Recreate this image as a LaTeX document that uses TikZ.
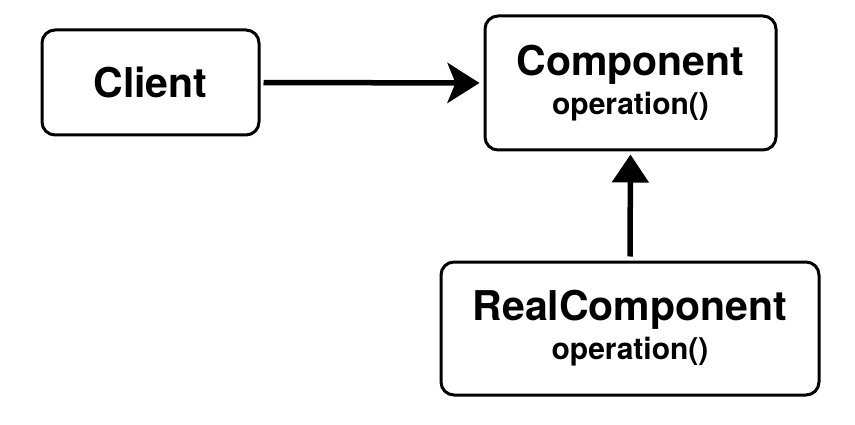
\documentclass[tikz,border=0pt]{standalone}
\usepackage{fontspec}
\setmainfont{TeX Gyre Heros}
\usetikzlibrary{arrows.meta}
\definecolor{ink}{HTML}{000000}
\tikzset{
  box/.style={draw=ink,line width=3pt,rounded corners=13pt,fill=white,align=center,
    font=\bfseries\fontsize{41}{39}\selectfont},
  link/.style={ink,line width=5.5pt},
}
\newcommand{\opname}{{\fontsize{30}{39}\selectfont operation()}}

\begin{document}
\begin{tikzpicture}[x=1pt,y=-1pt]
  \useasboundingbox (0,0) rectangle (855,425);
  \node[box,minimum width=217pt,minimum height=105pt] (client) at (150.5,82.5) {Client};
  \node[box,minimum width=291pt,minimum height=134pt] (comp) at (630.5,83) {Component\\\opname};
  \node[box,minimum width=378pt,minimum height=133pt] (real) at (630,328.5) {RealComponent\\\opname};
  \draw[link,-{Stealth[length=32pt,width=40pt,inset=8pt]},shorten <=3pt,shorten >=4pt]
    (client.east) -- (comp.west);
  \draw[link,-{Triangle[length=28pt,width=36pt]},shorten <=4pt,shorten >=3pt]
    (real.north) -- (comp.south);
\end{tikzpicture}
\end{document}
